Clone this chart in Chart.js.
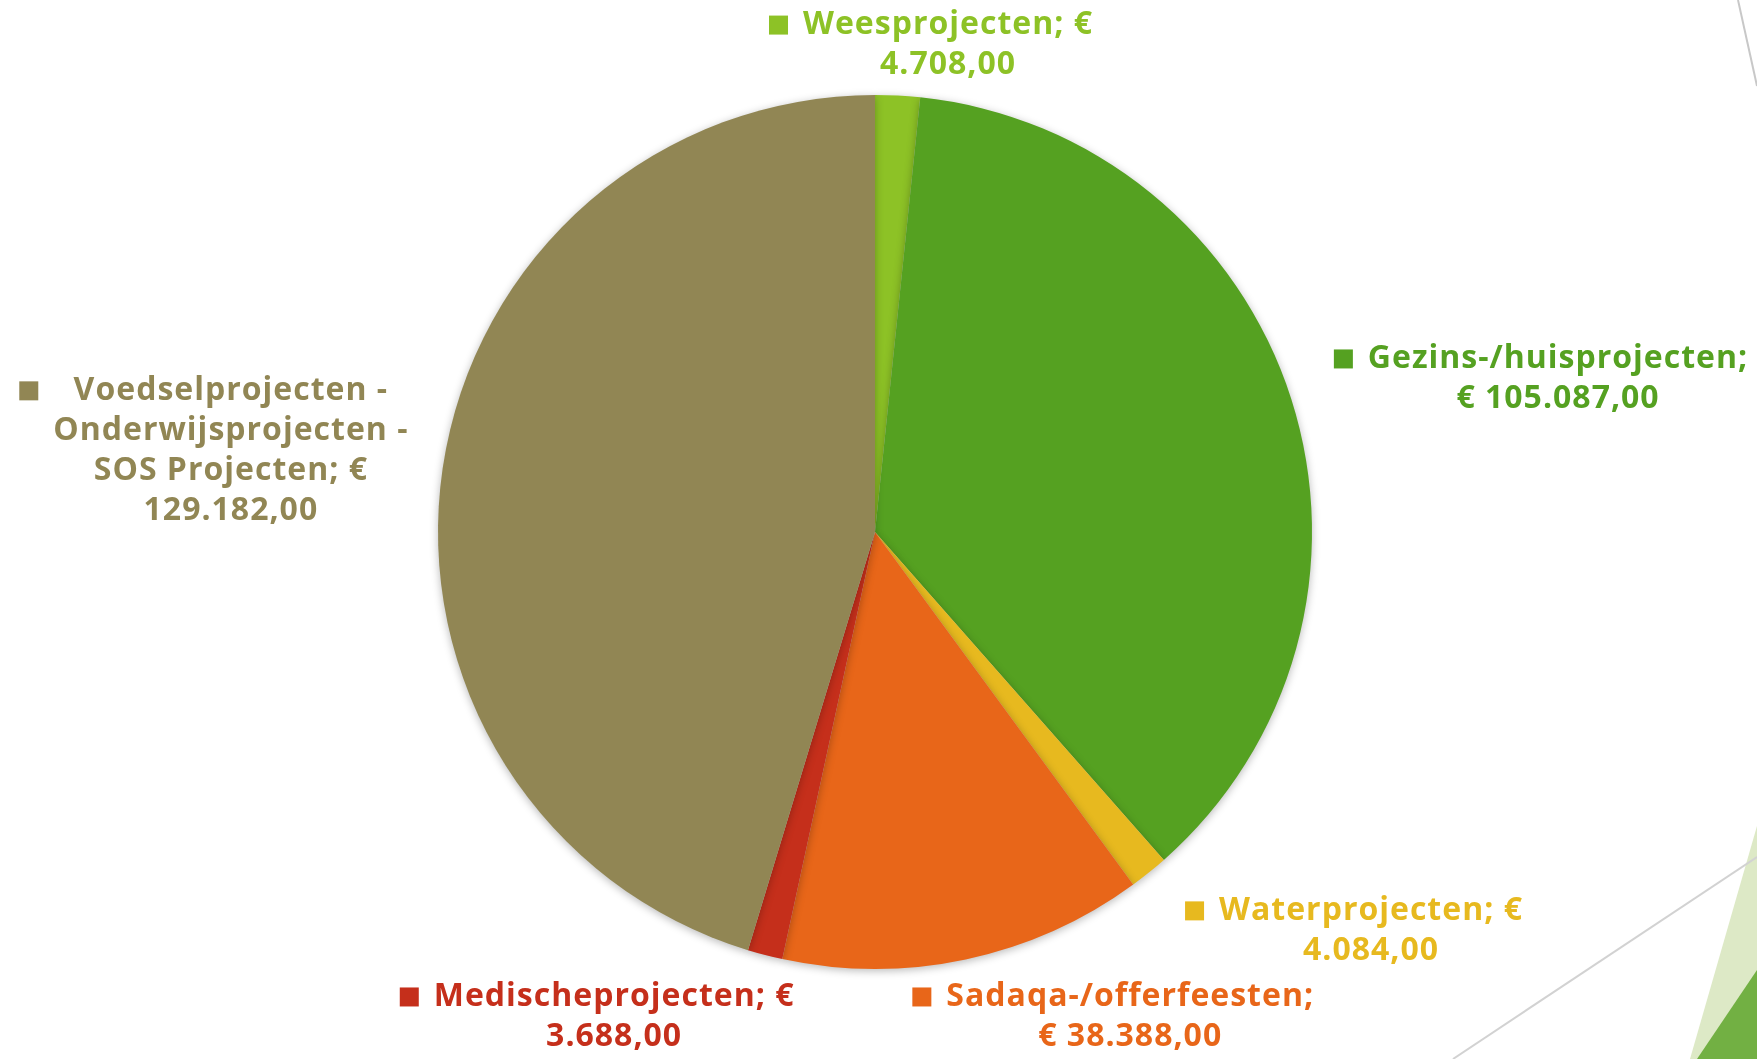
<!DOCTYPE html>
<html>
<head>
<meta charset="utf-8">
<script src="https://cdn.jsdelivr.net/npm/chart.js@4"></script>
<style>
    html, body { margin: 0; padding: 0; background: #fff; }
    #wrap { position: relative; width: 1757px; height: 1059px; overflow: hidden; }
    #deco { position: absolute; left: 0; top: 0; }
    #projectChart { position: absolute; left: 0; top: 0; }
</style>
</head>
<body>
<div id="wrap">
    <svg id="deco" width="1757" height="1059">
        <polygon points="1690,1059 1757,826 1757,1059" fill="#dde9c6"/>
        <polygon points="1697,1059 1757,970 1757,1059" fill="#72b043"/>
        <line x1="1453" y1="1059" x2="1757" y2="857" stroke="#d2d2d2" stroke-width="2"/>
        <line x1="1738" y1="0" x2="1757" y2="86" stroke="#c8c8c8" stroke-width="2"/>
    </svg>
    <canvas id="projectChart" width="1757" height="1059"></canvas>
</div>
<script>
const categories = [
    'Weesprojecten',
    'Gezins-/huisprojecten',
    'Waterprojecten',
    'Sadaqa-/offerfeesten',
    'Medischeprojecten',
    'Voedselprojecten - Onderwijsprojecten - SOS Projecten'
];
const amounts = [4708, 105087, 4084, 38388, 3688, 129182];
const sliceColors = ['#8dc226', '#55a121', '#e7b91f', '#e86619', '#c52f1b', '#918654'];

// label block position, in pie radii from the centre (x of text centre, y of first line)
const labelSpots = [
    [0.167, -1.160],
    [1.563, -0.396],
    [1.135, 0.867],
    [0.584, 1.064],
    [-0.597, 1.064],
    [-1.474, -0.323]
];

function euro(v) {
    const whole = Math.floor(v).toString().replace(/\B(?=(\d{3})+(?!\d))/g, '.');
    const cents = Math.round((v % 1) * 100).toString().padStart(2, '0');
    return whole + ',' + cents;
}

function wrapWords(text, maxChars) {
    const words = text.split(' ');
    const lines = [];
    let cur = '';
    words.forEach(w => {
        const next = cur ? cur + ' ' + w : w;
        if (next.length > maxChars && cur) {
            lines.push(cur);
            cur = w;
        } else {
            cur = next;
        }
    });
    if (cur) lines.push(cur);
    return lines;
}

// soft shadow under the pie
const pieShadow = {
    id: 'pieShadow',
    beforeDatasetsDraw(chart) {
        const ctx = chart.ctx;
        ctx.save();
        ctx.shadowColor = 'rgba(0, 0, 0, 0.28)';
        ctx.shadowBlur = 9;
        ctx.shadowOffsetY = 2;
    },
    afterDatasetsDraw(chart) {
        chart.ctx.restore();
    }
};

// data labels with coloured square markers
const sliceLabels = {
    id: 'sliceLabels',
    afterDraw(chart) {
        const ctx = chart.ctx;
        const meta = chart.getDatasetMeta(0);
        const first = meta.data[0];
        const cx = first.x, cy = first.y, R = first.outerRadius;
        const lineH = 40, box = 19, gap = 15;

        ctx.save();
        ctx.font = 'bold 32px "Open Sans", sans-serif';
        ctx.letterSpacing = '1px';
        ctx.textAlign = 'center';
        ctx.textBaseline = 'middle';

        categories.forEach((name, i) => {
            const lines = wrapWords(name + '; € ' + euro(amounts[i]), 22);
            const bx = cx + labelSpots[i][0] * R;
            const by = cy + labelSpots[i][1] * R;
            const widest = Math.max(...lines.map(l => ctx.measureText(l).width));

            ctx.fillStyle = sliceColors[i];
            ctx.fillRect(bx - widest / 2 - gap - box, by - box / 2, box, box);
            lines.forEach((l, k) => ctx.fillText(l, bx, by + k * lineH));
        });
        ctx.restore();
    }
};

document.addEventListener('DOMContentLoaded', () => {
    const chartCtx = document.getElementById('projectChart');
    new Chart(chartCtx, {
        type: 'pie',
        data: {
            labels: categories,
            datasets: [{
                data: amounts,
                backgroundColor: sliceColors,
                borderWidth: 0
            }]
        },
        options: {
            responsive: false,
            animation: false,
            layout: {
                padding: { top: 95, bottom: 90, left: 438, right: 445 }
            },
            plugins: {
                legend: { display: false },
                tooltip: { enabled: false }
            }
        },
        plugins: [pieShadow, sliceLabels]
    });
});
</script>
</body>
</html>
